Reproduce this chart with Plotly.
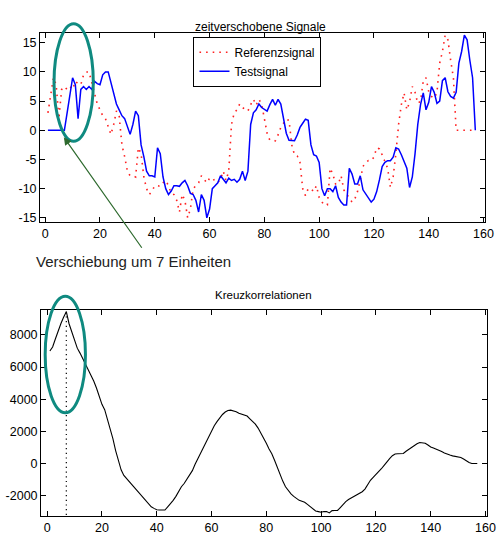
import plotly.graph_objects as go

# ---------------- data ----------------
sample_index = list(range(1, 158))

test_signal = [
    0, 0, 0, 0, 0, 0, 0,
    3, 6, 9, 7.8, 2, 7, 7.5, 7, 7.5, 7, 8.4, 8, 7.8, 9.5, 10, 10, 8, 6, 4.5, 3.5, 2.5, 2, 0.5,
    -0.7, 1, 3.3, 2.5, -2.5, -4.5, -7, -7.8, -7.8, -8,
    -3, -4, -8, -10, -11, -10.4, -9.5, -9.5, -9.6, -9,
    -8.6, -9.5, -10.8, -11, -12, -14, -11, -12, -15, -13.5,
    -10, -9.5, -9, -7.8, -8.4, -9, -8.2, -8.6, -8.4, -8.9,
    -8.4, -7, -8.6, -7, 1, 3, 3.5, 4.5, 3.9, 3.6,
    3.3, 4.4, 5.3, 4.3, 5.3, 4.5, 2, -0.5, -1.7, -1.8,
    -1.8, -0.8, 0.5, 1.2, 1.9, 1.7, -2.5, -4.2, -4.4, -5.5,
    -10, -11.2, -10, -10, -10.5, -9.5, -11.5, -12.3, -12.8, -12.8,
    -6.5, -7.5, -9.2, -9.2, -7.8, -10.2, -10.9, -11.8, -12.3, -11.8,
    -10.5, -8.5, -6.2, -5.5, -5.2, -5.2, -4.6, -3, -3.2, -4.2,
    -5.5, -6.5, -9.8, -8, -4, 1, 4.4, 6.4, 3.5, 4.8,
    7.5, 6.5, 4.6, 5, 8.5, 9, 6.6, 5.8, 5.5, 6.5,
    11.5, 13.5, 16.3, 15.5, 12, 9, 0,
]

reference_signal = [
    3, 6, 9, 7.8, 2, 7, 7.5, 7, 7.5, 7, 8.4, 8, 7.8, 9.5, 10, 10, 8, 6, 4.5, 3.5, 2.5, 2, 0.5,
    -0.7, 1, 3.3, 2.5, -2.5, -4.5, -7, -7.8, -7.8, -8,
    -3, -4, -8, -10, -11, -10.4, -9.5, -9.5, -9.6, -9,
    -8.6, -9.5, -10.8, -11, -12, -14, -11, -12, -15, -13.5,
    -10, -9.5, -9, -7.8, -8.4, -9, -8.2, -8.6, -8.4, -8.9,
    -8.4, -7, -8.6, -7, 1, 3, 3.5, 4.5, 3.9, 3.6,
    3.3, 4.4, 5.3, 4.3, 5.3, 4.5, 2, -0.5, -1.7, -1.8,
    -1.8, -0.8, 0.5, 1.2, 1.9, 1.7, -2.5, -4.2, -4.4, -5.5,
    -10, -11.2, -10, -10, -10.5, -9.5, -11.5, -12.3, -12.8, -12.8,
    -6.5, -7.5, -9.2, -9.2, -7.8, -10.2, -10.9, -11.8, -12.3, -11.8,
    -10.5, -8.5, -6.2, -5.5, -5.2, -5.2, -4.6, -3, -3.2, -4.2,
    -5.5, -6.5, -9.8, -8, -4, 1, 4.4, 6.4, 3.5, 4.8,
    7.5, 6.5, 4.6, 5, 8.5, 9, 6.6, 5.8, 5.5, 6.5,
    11.5, 13.5, 16.3, 15.5, 12, 9, 0,
    0, 0, 0, 0, 0, 0, 0,
]

lags = list(range(1, 158))
cross_correlation = [
    7000, 7250, 7750, 8250, 8700, 9100, 9450, 8700, 8150, 7650,
    7180, 6870, 6520, 6220, 5870, 5500, 5130, 4700, 4200, 3680,
    3350, 2800, 2150, 1550, 800, 200, -400, -750, -950, -1100,
    -1300, -1550, -1750, -1950, -2150, -2350, -2550, -2700, -2800, -2880,
    -2900, -2900, -2900, -2700, -2520, -2300, -2050, -1750, -1450, -1250,
    -1000, -750, -450, -50, 300, 650, 1000, 1350, 1700, 2050,
    2350, 2600, 2850, 3050, 3200, 3300, 3320, 3280, 3220, 3130,
    3060, 3030, 2950, 2780, 2620, 2450, 2200, 1900, 1600, 1250,
    900, 600, 200, -250, -700, -1100, -1450, -1700, -1900, -2050,
    -2200, -2300, -2360, -2420, -2550, -2700, -2820, -2960, -3000, -3040,
    -2990, -3000, -3080, -2940, -2930, -2930, -2750, -2550, -2380, -2250,
    -2150, -2080, -1980, -1880, -1760, -1600, -1300, -1050, -870, -700,
    -520, -330, -120, 120, 300, 480, 590, 600, 590, 620,
    760, 880, 1000, 1130, 1230, 1300, 1300, 1260, 1150, 1020,
    960, 900, 820, 740, 650, 570, 520, 470, 430, 400,
    370, 280, 160, 60, 0, 0, 0,
]

peak_lag = 7
shift_label = "Verschiebung um 7 Einheiten"

x_ticks = [0, 20, 40, 60, 80, 100, 120, 140, 160]
top_y_ticks = [15, 10, 5, 0, -5, -10, -15]
bottom_y_ticks = [8000, 6000, 4000, 2000, 0, -2000]

TOP_X_RANGE = [-1.8, 160.6]
TOP_Y_RANGE = [-15.67, 16.7]
BOT_X_RANGE = [-2.15, 160.6]
BOT_Y_RANGE = [-3280, 9540]

W, H = 504, 536
FONT = "Liberation Sans, Arial, sans-serif"


def px(x):
    return x / W


def py(y):
    return 1 - y / H


fig = go.Figure()

fig.add_trace(go.Scatter(
    x=sample_index, y=reference_signal, mode="lines", name="Referenzsignal",
    line=dict(color="#ff2020", width=1.6, dash="1.6px,5px"),
    xaxis="x", yaxis="y",
))
fig.add_trace(go.Scatter(
    x=sample_index, y=test_signal, mode="lines", name="Testsignal",
    line=dict(color="#0000ff", width=1.5),
    xaxis="x", yaxis="y",
))
fig.add_trace(go.Scatter(
    x=lags, y=cross_correlation, mode="lines", showlegend=False,
    line=dict(color="black", width=1.1),
    xaxis="x2", yaxis="y2",
))
peak_val = cross_correlation[lags.index(peak_lag)]
fig.add_trace(go.Scatter(
    x=[peak_lag, peak_lag], y=[peak_val, BOT_Y_RANGE[0]], mode="lines", showlegend=False,
    line=dict(color="black", width=1.2, dash="1.2px,3.5px"),
    xaxis="x2", yaxis="y2",
))

axis_common = dict(
    showline=True, linecolor="black", linewidth=1.2, mirror="allticks",
    ticks="inside", ticklen=5, tickcolor="black", tickwidth=1,
    showgrid=False, zeroline=False, ticklabeloverflow="allow",
    tickfont=dict(family=FONT, size=12.5, color="black"),
)

fig.update_layout(
    width=W, height=H,
    margin=dict(l=0, r=0, t=0, b=0),
    paper_bgcolor="white", plot_bgcolor="white",
    showlegend=True,
    hovermode=False,
    xaxis=dict(domain=[px(41), px(494)], range=TOP_X_RANGE, anchor="y",
               tickvals=x_ticks, ticktext=[str(v) for v in x_ticks], **axis_common),
    yaxis=dict(domain=[py(223), py(33)], range=TOP_Y_RANGE, anchor="x",
               tickvals=top_y_ticks, ticktext=[str(v) for v in top_y_ticks], **axis_common),
    xaxis2=dict(domain=[px(42), px(496)], range=BOT_X_RANGE, anchor="y2",
                tickvals=x_ticks, ticktext=[str(v) for v in x_ticks], **axis_common),
    yaxis2=dict(domain=[py(519), py(312)], range=BOT_Y_RANGE, anchor="x2",
                tickvals=bottom_y_ticks, ticktext=[str(v) for v in bottom_y_ticks], **axis_common),
    legend=dict(
        x=px(197), y=py(37), xanchor="left", yanchor="top",
        bgcolor="white", bordercolor="black", borderwidth=1,
        font=dict(family=FONT, size=12, color="black"),
        tracegroupgap=0,
    ),
)

# titles
fig.add_annotation(text="zeitverschobene Signale", xref="paper", yref="paper",
                   x=px(265), y=py(18), showarrow=False,
                   font=dict(family=FONT, size=12, color="black"))
fig.add_annotation(text="Kreuzkorrelationen", xref="paper", yref="paper",
                   x=px(268), y=py(297), showarrow=False,
                   font=dict(family=FONT, size=11.5, color="black"))

# arrow + label
fig.add_annotation(text="", xref="paper", yref="paper",
                   x=px(65), y=py(138), ax=79, ay=112,
                   showarrow=True, arrowhead=2, arrowsize=1.3, arrowwidth=1.2,
                   arrowcolor="#2e6a2e")
fig.add_annotation(text=shift_label, xref="paper", yref="paper",
                   x=px(35), y=py(263), xanchor="left", yanchor="middle",
                   showarrow=False, font=dict(family=FONT, size=15, color="#222222"))

# highlight ellipses
TEAL = "#0f8a80"
fig.add_shape(type="circle", xref="paper", yref="paper",
              x0=px(55), x1=px(95), y0=py(142), y1=py(24),
              line=dict(color=TEAL, width=3))
fig.add_shape(type="circle", xref="paper", yref="paper",
              x0=px(46), x1=px(87), y0=py(415), y1=py(298),
              line=dict(color=TEAL, width=3))

# remove the default 8px body margin so the figure fills the window exactly
fig.write_html("out.html",
               config={"displayModeBar": False, "staticPlot": True},
               post_script="document.body.style.margin='0';document.body.style.overflow='hidden';")
